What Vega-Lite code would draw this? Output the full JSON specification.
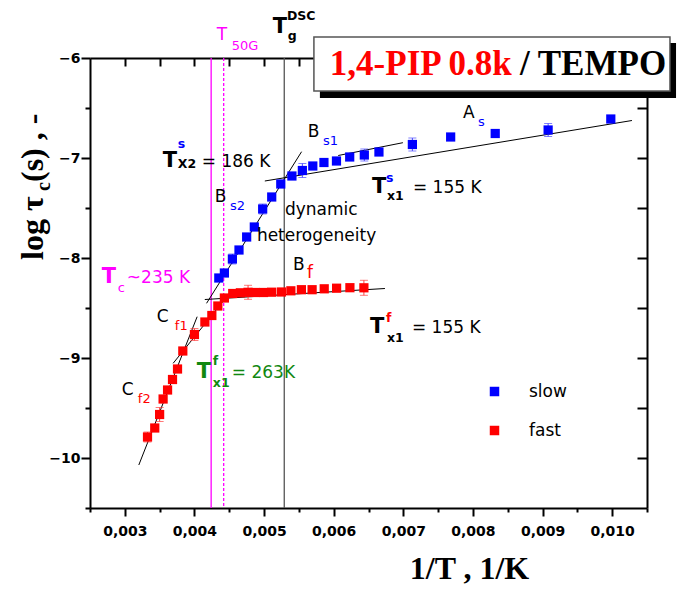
{
  "$schema": "https://vega.github.io/schema/vega-lite/v6.json",
  "width": 557,
  "height": 450,
  "autosize": {"type": "none"},
  "padding": {"left": 90, "top": 58, "right": 31, "bottom": 81},
  "background": "white",
  "config": {
    "view": {"stroke": null},
    "axis": {"grid": false, "domainColor": "black", "tickColor": "black", "domainWidth": 2, "tickWidth": 2, "labelColor": "black", "labelFont": "DejaVu Sans", "labelFontWeight": "bold", "labelFontSize": 14, "title": null}
  },
  "datasets": {
    "points": [
      {"series": "slow", "x": 0.00435, "y": -8.2, "err": null},
      {"series": "slow", "x": 0.00443, "y": -8.15, "err": null},
      {"series": "slow", "x": 0.004545, "y": -8.01, "err": 0.05},
      {"series": "slow", "x": 0.00464, "y": -7.92, "err": null},
      {"series": "slow", "x": 0.00475, "y": -7.79, "err": null},
      {"series": "slow", "x": 0.00486, "y": -7.69, "err": null},
      {"series": "slow", "x": 0.00498, "y": -7.51, "err": 0.05},
      {"series": "slow", "x": 0.00511, "y": -7.39, "err": null},
      {"series": "slow", "x": 0.00524, "y": -7.26, "err": null},
      {"series": "slow", "x": 0.0054, "y": -7.18, "err": null},
      {"series": "slow", "x": 0.00555, "y": -7.125, "err": 0.07},
      {"series": "slow", "x": 0.0057, "y": -7.08, "err": null},
      {"series": "slow", "x": 0.00586, "y": -7.045, "err": null},
      {"series": "slow", "x": 0.00604, "y": -7.03, "err": null},
      {"series": "slow", "x": 0.00623, "y": -6.99, "err": null},
      {"series": "slow", "x": 0.00644, "y": -6.97, "err": 0.06},
      {"series": "slow", "x": 0.00665, "y": -6.94, "err": null},
      {"series": "slow", "x": 0.00713, "y": -6.865, "err": 0.065},
      {"series": "slow", "x": 0.00768, "y": -6.79, "err": null},
      {"series": "slow", "x": 0.00832, "y": -6.755, "err": null},
      {"series": "slow", "x": 0.00908, "y": -6.72, "err": 0.065},
      {"series": "slow", "x": 0.00998, "y": -6.61, "err": null},
      {"series": "fast", "x": 0.003326, "y": -9.79, "err": 0.05},
      {"series": "fast", "x": 0.00343, "y": -9.7, "err": null},
      {"series": "fast", "x": 0.0035, "y": -9.565, "err": 0.07},
      {"series": "fast", "x": 0.00355, "y": -9.41, "err": null},
      {"series": "fast", "x": 0.003614, "y": -9.32, "err": null},
      {"series": "fast", "x": 0.003685, "y": -9.215, "err": null},
      {"series": "fast", "x": 0.003757, "y": -9.11, "err": null},
      {"series": "fast", "x": 0.003833, "y": -8.93, "err": null},
      {"series": "fast", "x": 0.004, "y": -8.765, "err": 0.06},
      {"series": "fast", "x": 0.00415, "y": -8.64, "err": null},
      {"series": "fast", "x": 0.00425, "y": -8.575, "err": null},
      {"series": "fast", "x": 0.004336, "y": -8.48, "err": null},
      {"series": "fast", "x": 0.00443, "y": -8.4, "err": null},
      {"series": "fast", "x": 0.00455, "y": -8.355, "err": null},
      {"series": "fast", "x": 0.00466, "y": -8.348, "err": null},
      {"series": "fast", "x": 0.00477, "y": -8.343, "err": 0.07},
      {"series": "fast", "x": 0.00487, "y": -8.345, "err": null},
      {"series": "fast", "x": 0.00499, "y": -8.345, "err": null},
      {"series": "fast", "x": 0.00511, "y": -8.342, "err": null},
      {"series": "fast", "x": 0.00525, "y": -8.34, "err": null},
      {"series": "fast", "x": 0.005385, "y": -8.328, "err": null},
      {"series": "fast", "x": 0.005536, "y": -8.317, "err": null},
      {"series": "fast", "x": 0.00569, "y": -8.317, "err": null},
      {"series": "fast", "x": 0.005864, "y": -8.308, "err": null},
      {"series": "fast", "x": 0.006042, "y": -8.302, "err": null},
      {"series": "fast", "x": 0.006233, "y": -8.297, "err": null},
      {"series": "fast", "x": 0.006434, "y": -8.298, "err": 0.075}
    ],
    "vlines": [
      {"line": "Tc", "x": 0.00424},
      {"line": "T50G", "x": 0.00442},
      {"line": "TgDSC", "x": 0.00529}
    ],
    "fits": [
      {"fit": "As", "x": 0.005011, "y": -7.23}, {"fit": "As", "x": 0.010284, "y": -6.625},
      {"fit": "Bs1", "x": 0.006065, "y": -6.975}, {"fit": "Bs1", "x": 0.006994, "y": -6.847},
      {"fit": "Bs2", "x": 0.004174, "y": -8.453}, {"fit": "Bs2", "x": 0.005539, "y": -6.937},
      {"fit": "Bf", "x": 0.004149, "y": -8.415}, {"fit": "Bf", "x": 0.006736, "y": -8.305},
      {"fit": "Cf1", "x": 0.003694, "y": -9.053}, {"fit": "Cf1", "x": 0.004537, "y": -8.325},
      {"fit": "Cf2", "x": 0.003201, "y": -10.07}, {"fit": "Cf2", "x": 0.004039, "y": -8.587}
    ],
    "box": [
      {"part": "shadow", "x1": 0.005802, "x2": 0.010917, "y1": -5.85, "y2": -6.4},
      {"part": "frame", "x1": 0.005716, "x2": 0.01083, "y1": -5.79, "y2": -6.33}
    ],
    "title": [
      {"text": "1,4-PIP 0.8k", "x": 0.005945, "y": -6.17, "ser": "fast"},
      {"text": "/ TEMPO", "x": 0.008675, "y": -6.17, "ser": "plain"}
    ],
    "ytitle": [
      {"grp": "main", "text": "log τ", "x": 0.001822, "y": -8.02},
      {"grp": "main", "text": "(s) , -", "x": 0.001822, "y": -7.24},
      {"grp": "sub", "text": "c", "x": 0.001922, "y": -7.33}
    ],
    "labels": [
      {"grp": "T", "text": "T", "x": 0.003546, "y": -7.09, "ser": "plain"},
      {"grp": "T", "text": "T", "x": 0.006549, "y": -7.35, "ser": "plain"},
      {"grp": "T", "text": "T", "x": 0.00652, "y": -8.75, "ser": "plain"},
      {"grp": "T", "text": "T", "x": 0.004034, "y": -9.2, "ser": "tx"},
      {"grp": "T", "text": "T", "x": 0.00267, "y": -8.25, "ser": "tc"},
      {"grp": "T", "text": "T", "x": 0.005126, "y": -5.75, "ser": "plain"},
      {"grp": "idx", "text": "s", "x": 0.003761, "y": -6.9, "ser": "slow"},
      {"grp": "idx", "text": "X2", "x": 0.003761, "y": -7.1, "ser": "plain"},
      {"grp": "idx", "text": "s", "x": 0.00675, "y": -7.24, "ser": "slow"},
      {"grp": "idx", "text": "x1", "x": 0.006764, "y": -7.42, "ser": "plain"},
      {"grp": "idx", "text": "f", "x": 0.00675, "y": -8.64, "ser": "fast"},
      {"grp": "idx", "text": "x1", "x": 0.006764, "y": -8.84, "ser": "plain"},
      {"grp": "idx", "text": "f", "x": 0.004264, "y": -9.07, "ser": "tx"},
      {"grp": "idx", "text": "x1", "x": 0.004264, "y": -9.29, "ser": "tx"},
      {"grp": "idx", "text": "DSC", "x": 0.005328, "y": -5.62, "ser": "plain"},
      {"grp": "idx", "text": "g", "x": 0.005342, "y": -5.82, "ser": "plain"},
      {"grp": "txt", "text": "= 186 K", "x": 0.004106, "y": -7.09, "ser": "plain"},
      {"grp": "txt", "text": "= 155 K", "x": 0.007138, "y": -7.35, "ser": "plain"},
      {"grp": "txt", "text": "= 155 K", "x": 0.007124, "y": -8.75, "ser": "plain"},
      {"grp": "txt", "text": "~235 K", "x": 0.003029, "y": -8.25, "ser": "tc"},
      {"grp": "txt", "text": "= 263K", "x": 0.004537, "y": -9.2, "ser": "tx"},
      {"grp": "txt", "text": "A", "x": 0.007856, "y": -6.6, "ser": "plain"},
      {"grp": "txt", "text": "B", "x": 0.005629, "y": -6.79, "ser": "plain"},
      {"grp": "txt", "text": "B", "x": 0.004293, "y": -7.44, "ser": "plain"},
      {"grp": "txt", "text": "C", "x": 0.00346, "y": -8.64, "ser": "plain"},
      {"grp": "txt", "text": "C", "x": 0.002957, "y": -9.37, "ser": "plain"},
      {"grp": "txt", "text": "B", "x": 0.005414, "y": -8.12, "ser": "plain"},
      {"grp": "txt", "text": "f", "x": 0.005615, "y": -8.2, "ser": "fast"},
      {"grp": "txt", "text": "dynamic", "x": 0.005299, "y": -7.57, "ser": "plain"},
      {"grp": "txt", "text": "heterogeneity", "x": 0.004897, "y": -7.83, "ser": "plain"},
      {"grp": "txt", "text": "T", "x": 0.004322, "y": -5.82, "ser": "tc"},
      {"grp": "sub", "text": "s", "x": 0.008072, "y": -6.68, "ser": "slow"},
      {"grp": "sub", "text": "s1", "x": 0.005845, "y": -6.87, "ser": "slow"},
      {"grp": "sub", "text": "s2", "x": 0.004509, "y": -7.52, "ser": "slow"},
      {"grp": "sub", "text": "f1", "x": 0.003718, "y": -8.72, "ser": "fast"},
      {"grp": "sub", "text": "f2", "x": 0.003187, "y": -9.45, "ser": "fast"},
      {"grp": "sub", "text": "c", "x": 0.002899, "y": -8.34, "ser": "tc"},
      {"grp": "sub", "text": "50G", "x": 0.004537, "y": -5.92, "ser": "tc"}
    ]
  },
  "layer": [
    {
      "data": {"name": "vlines"},
      "mark": {"type": "rule", "strokeWidth": 1.3},
      "encoding": {
        "x": {"field": "x", "type": "quantitative", "scale": {"domain": [0.0025, 0.0105], "nice": false, "zero": false},
              "axis": {"orient": "bottom", "values": [0.0025, 0.0035, 0.0045, 0.0055, 0.0065, 0.0075, 0.0085, 0.0095, 0.0105], "tickSize": 4, "labels": false, "domain": false}},
        "color": {"field": "line", "type": "nominal", "scale": {"domain": ["Tc", "T50G", "TgDSC"], "range": ["#ff00ff", "#ff00ff", "#555555"]}, "legend": null},
        "strokeDash": {"field": "line", "type": "nominal", "scale": {"domain": ["Tc", "T50G", "TgDSC"], "range": [[1, 0], [3, 2], [1, 0]]}, "legend": null}
      }
    },
    {
      "data": {"name": "fits"},
      "mark": {"type": "line", "color": "black", "strokeWidth": 1},
      "encoding": {
        "x": {"field": "x", "type": "quantitative", "scale": {"domain": [0.0025, 0.0105], "nice": false, "zero": false},
              "axis": {"orient": "top", "values": [0.003, 0.0035, 0.004, 0.0045, 0.005, 0.0055, 0.006, 0.0065, 0.007, 0.0075, 0.008, 0.0085, 0.009, 0.0095, 0.01], "tickSize": -8, "labels": false}},
        "y": {"field": "y", "type": "quantitative", "scale": {"domain": [-10.5, -6], "nice": false, "zero": false},
              "axis": {"orient": "right", "values": [-10, -9.5, -9, -8.5, -8, -7.5, -7, -6.5], "tickSize": -10, "labels": false}},
        "detail": {"field": "fit", "type": "nominal"}
      }
    },
    {
      "data": {"name": "points"},
      "transform": [{"filter": "datum.err != null"}],
      "mark": {"type": "errorbar", "ticks": true, "size": 8, "thickness": 1},
      "encoding": {
        "x": {"field": "x", "type": "quantitative", "scale": {"domain": [0.0025, 0.0105], "nice": false, "zero": false}, "axis": null},
        "y": {"field": "y", "type": "quantitative", "scale": {"domain": [-10.5, -6], "nice": false, "zero": false}, "axis": null},
        "yError": {"field": "err"},
        "color": {"field": "series", "type": "nominal", "scale": {"domain": ["slow", "fast"], "range": ["#4a4aff", "#ff4040"]}, "legend": null}
      }
    },
    {
      "data": {"name": "points"},
      "mark": {"type": "square", "size": 85, "opacity": 1},
      "encoding": {
        "x": {"field": "x", "type": "quantitative", "scale": {"domain": [0.0025, 0.0105], "nice": false, "zero": false},
              "axis": {"orient": "bottom", "values": [0.003, 0.004, 0.005, 0.006, 0.007, 0.008, 0.009, 0.01], "tickSize": 8, "labelPadding": 8,
                       "labelExpr": "replace(format(datum.value, '.3f'), '.', ',')",
                       "title": "1/T , 1/K", "titleFont": "Liberation Serif", "titleFontWeight": "bold", "titleFontSize": 32, "titleColor": "black", "titleX": 379, "titleY": 45, "titleAlign": "center", "titleBaseline": "top", "titleAngle": 0}},
        "y": {"field": "y", "type": "quantitative", "scale": {"domain": [-10.5, -6], "nice": false, "zero": false},
              "axis": {"orient": "left", "values": [-10, -9, -8, -7, -6], "tickSize": 9, "labelPadding": 1, "format": "d"}},
        "color": {"field": "series", "type": "nominal", "scale": {"domain": ["slow", "fast"], "range": ["#0000ff", "#ff0000"]},
                  "legend": {"orient": "none", "legendX": 396, "legendY": 325, "title": null, "symbolType": "square", "symbolSize": 90, "symbolStrokeWidth": 0, "labelFont": "DejaVu Sans", "labelFontSize": 17, "labelColor": "black", "labelOffset": 26, "rowPadding": 21, "padding": 0}}
      }
    },
    {
      "data": {"name": "box"},
      "transform": [{"filter": "datum.part === 'shadow'"}],
      "mark": {"type": "rect", "color": "black"},
      "encoding": {
        "x": {"field": "x1", "type": "quantitative", "scale": {"domain": [0.0025, 0.0105], "nice": false, "zero": false}, "axis": null},
        "x2": {"field": "x2"},
        "y": {"field": "y1", "type": "quantitative", "scale": {"domain": [-10.5, -6], "nice": false, "zero": false},
              "axis": {"orient": "left", "values": [-10.5, -9.5, -8.5, -7.5, -6.5], "tickSize": 5, "labels": false, "domain": false}},
        "y2": {"field": "y2"}
      }
    },
    {
      "data": {"name": "box"},
      "transform": [{"filter": "datum.part === 'frame'"}],
      "mark": {"type": "rect", "fill": "white", "stroke": "#555555", "strokeWidth": 1.5},
      "encoding": {
        "x": {"field": "x1", "type": "quantitative", "scale": {"domain": [0.0025, 0.0105], "nice": false, "zero": false}, "axis": null},
        "x2": {"field": "x2"},
        "y": {"field": "y1", "type": "quantitative", "scale": {"domain": [-10.5, -6], "nice": false, "zero": false}, "axis": null},
        "y2": {"field": "y2"}
      }
    },
    {
      "data": {"name": "title"},
      "mark": {"type": "text", "font": "Liberation Serif", "fontWeight": "bold", "fontSize": 35, "align": "left", "baseline": "alphabetic"},
      "encoding": {
        "x": {"field": "x", "type": "quantitative", "scale": {"domain": [0.0025, 0.0105], "nice": false, "zero": false}, "axis": null},
        "y": {"field": "y", "type": "quantitative", "scale": {"domain": [-10.5, -6], "nice": false, "zero": false}, "axis": null},
        "text": {"field": "text"},
        "color": {"field": "ser", "type": "nominal", "scale": {"domain": ["fast", "plain"], "range": ["#ff0000", "#000000"]}, "legend": null}
      }
    },
    {
      "data": {"name": "labels"},
      "transform": [{"filter": "datum.grp === 'T'"}],
      "mark": {"type": "text", "font": "DejaVu Sans", "fontWeight": "bold", "fontSize": 21, "align": "left", "baseline": "alphabetic"},
      "encoding": {
        "x": {"field": "x", "type": "quantitative", "scale": {"domain": [0.0025, 0.0105], "nice": false, "zero": false}, "axis": null},
        "y": {"field": "y", "type": "quantitative", "scale": {"domain": [-10.5, -6], "nice": false, "zero": false}, "axis": null},
        "text": {"field": "text"},
        "color": {"field": "ser", "type": "nominal", "scale": {"domain": ["slow", "fast", "plain", "tc", "tx"], "range": ["#0000ff", "#ff0000", "#000000", "#ff00ff", "#118811"]}, "legend": null}
      }
    },
    {
      "data": {"name": "labels"},
      "transform": [{"filter": "datum.grp === 'idx'"}],
      "mark": {"type": "text", "font": "DejaVu Sans", "fontWeight": "bold", "fontSize": 12.5, "align": "left", "baseline": "alphabetic"},
      "encoding": {
        "x": {"field": "x", "type": "quantitative", "scale": {"domain": [0.0025, 0.0105], "nice": false, "zero": false}, "axis": null},
        "y": {"field": "y", "type": "quantitative", "scale": {"domain": [-10.5, -6], "nice": false, "zero": false}, "axis": null},
        "text": {"field": "text"},
        "color": {"field": "ser", "type": "nominal", "scale": {"domain": ["slow", "fast", "plain", "tc", "tx"], "range": ["#0000ff", "#ff0000", "#000000", "#ff00ff", "#118811"]}, "legend": null}
      }
    },
    {
      "data": {"name": "labels"},
      "transform": [{"filter": "datum.grp === 'txt'"}],
      "mark": {"type": "text", "font": "DejaVu Sans", "fontSize": 17, "align": "left", "baseline": "alphabetic"},
      "encoding": {
        "x": {"field": "x", "type": "quantitative", "scale": {"domain": [0.0025, 0.0105], "nice": false, "zero": false}, "axis": null},
        "y": {"field": "y", "type": "quantitative", "scale": {"domain": [-10.5, -6], "nice": false, "zero": false}, "axis": null},
        "text": {"field": "text"},
        "color": {"field": "ser", "type": "nominal", "scale": {"domain": ["slow", "fast", "plain", "tc", "tx"], "range": ["#0000ff", "#ff0000", "#000000", "#ff00ff", "#118811"]}, "legend": null}
      }
    },
    {
      "data": {"name": "labels"},
      "transform": [{"filter": "datum.grp === 'sub'"}],
      "mark": {"type": "text", "font": "DejaVu Sans", "fontSize": 13, "align": "left", "baseline": "alphabetic"},
      "encoding": {
        "x": {"field": "x", "type": "quantitative", "scale": {"domain": [0.0025, 0.0105], "nice": false, "zero": false}, "axis": null},
        "y": {"field": "y", "type": "quantitative", "scale": {"domain": [-10.5, -6], "nice": false, "zero": false}, "axis": null},
        "text": {"field": "text"},
        "color": {"field": "ser", "type": "nominal", "scale": {"domain": ["slow", "fast", "plain", "tc", "tx"], "range": ["#0000ff", "#ff0000", "#000000", "#ff00ff", "#118811"]}, "legend": null}
      }
    },
    {
      "data": {"name": "ytitle"},
      "transform": [{"filter": "datum.grp === 'main'"}],
      "mark": {"type": "text", "font": "Liberation Serif", "fontWeight": "bold", "fontSize": 32, "align": "left", "baseline": "alphabetic", "angle": 270, "color": "black"},
      "encoding": {
        "x": {"field": "x", "type": "quantitative", "scale": {"domain": [0.0025, 0.0105], "nice": false, "zero": false}, "axis": null},
        "y": {"field": "y", "type": "quantitative", "scale": {"domain": [-10.5, -6], "nice": false, "zero": false}, "axis": null},
        "text": {"field": "text"}
      }
    },
    {
      "data": {"name": "ytitle"},
      "transform": [{"filter": "datum.grp === 'sub'"}],
      "mark": {"type": "text", "font": "Liberation Serif", "fontWeight": "bold", "fontSize": 20, "align": "left", "baseline": "alphabetic", "angle": 270, "color": "black"},
      "encoding": {
        "x": {"field": "x", "type": "quantitative", "scale": {"domain": [0.0025, 0.0105], "nice": false, "zero": false}, "axis": null},
        "y": {"field": "y", "type": "quantitative", "scale": {"domain": [-10.5, -6], "nice": false, "zero": false}, "axis": null},
        "text": {"field": "text"}
      }
    }
  ],
  "resolve": {"axis": {"x": "independent", "y": "independent"}, "scale": {"color": "independent", "strokeDash": "independent"}}
}
